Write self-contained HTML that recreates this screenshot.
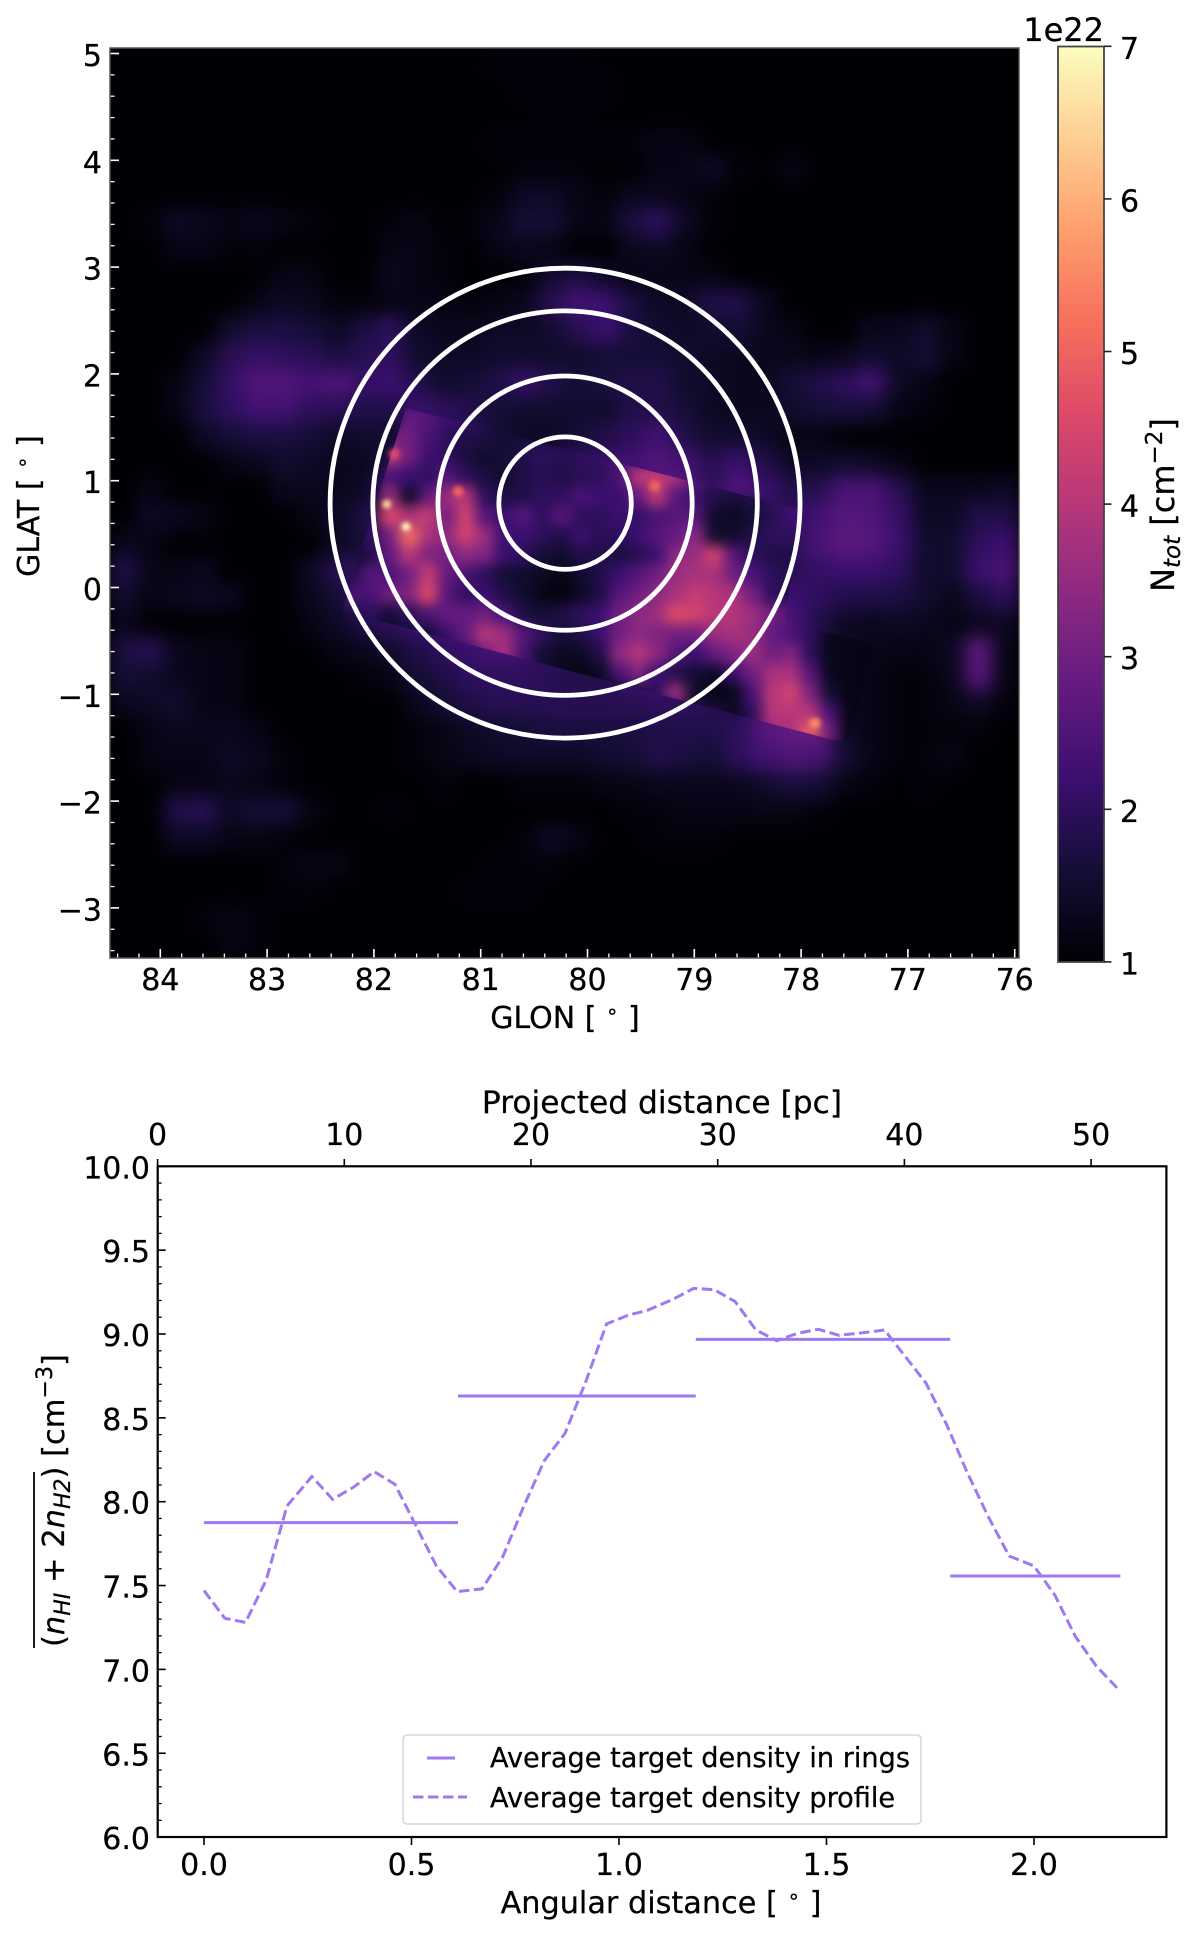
<!DOCTYPE html>
<html lang="en">
<head>
<meta charset="utf-8">
<title>Column density map and target density profile</title>
<style>
html,body{margin:0;padding:0;background:#fff;}
svg{display:block;}
text{font-family:"DejaVu Sans","Liberation Sans",sans-serif;font-size:30px;fill:#000;stroke:#000;stroke-width:0.25;}
.it{font-style:italic;}
</style>
</head>
<body>
<svg id="figure" xmlns="http://www.w3.org/2000/svg" width="1200" height="1938" viewBox="0 0 1200 1938">
  <defs>
    <clipPath id="map-clip"><rect x="110" y="48" width="909" height="910"/></clipPath>
    <clipPath id="strip-clip"><polygon id="strip-polygon" points="0,0"/></clipPath>
    <filter id="soft" filterUnits="userSpaceOnUse" x="40" y="-20" width="1050" height="1050" color-interpolation-filters="sRGB"><feGaussianBlur stdDeviation="9"/></filter>
    <filter id="medium" filterUnits="userSpaceOnUse" x="40" y="-20" width="1050" height="1050" color-interpolation-filters="sRGB"><feGaussianBlur stdDeviation="6.5"/></filter>
    <filter id="softer" filterUnits="userSpaceOnUse" x="40" y="-20" width="1050" height="1050" color-interpolation-filters="sRGB"><feGaussianBlur stdDeviation="2.5"/></filter>
    <linearGradient id="magma-gradient" x1="0" y1="1" x2="0" y2="0"></linearGradient>
  </defs>

  <g id="map-panel">
    <rect x="110" y="48" width="909" height="910" fill="#000004"/>
    <g clip-path="url(#map-clip)">
      <g id="heat-cells" filter="url(#soft)"></g>
      <g clip-path="url(#strip-clip)">
        <g id="detail-cells" filter="url(#medium)"></g>
      </g>
      <g id="hot-spots" filter="url(#softer)"></g>
      <g id="rings"></g>
    </g>
    <g id="map-ticks"></g>
    <rect x="110" y="48" width="909" height="910" fill="none" stroke="#555" stroke-width="1.5"/>
    <text x="565" y="1028" text-anchor="middle">GLON [ <tspan font-size="20" dy="-10">∘</tspan><tspan dy="10"> ]</tspan></text>
    <text transform="translate(39,506) rotate(-90)" text-anchor="middle">GLAT [ <tspan font-size="20" dy="-10">∘</tspan><tspan dy="10"> ]</tspan></text>
  </g>

  <g id="colorbar">
    <rect x="1058" y="46.5" width="46" height="915.5" fill="url(#magma-gradient)" stroke="#444" stroke-width="1.8"/>
    <g id="cbar-ticks"></g>
    <text x="1104" y="41" text-anchor="end" style="font-size:32px">1e22</text>
    <text transform="translate(1174,505) rotate(-90)" text-anchor="middle" style="font-size:32px">N<tspan class="it" font-size="23" dy="6">tot</tspan><tspan dy="-6"> [cm</tspan><tspan font-size="23" dy="-12">−2</tspan><tspan dy="12">]</tspan></text>
  </g>

  <g id="profile-panel">
    <g id="profile-marks"></g>
    <rect x="157.7" y="1166.3" width="1008.7" height="670.7" fill="none" stroke="#000" stroke-width="2.2"/>
    <g id="profile-ticks"></g>
    <text x="662" y="1113" text-anchor="middle" style="font-size:31.3px">Projected distance [pc]</text>
    <text x="661" y="1913" text-anchor="middle" style="font-size:30.3px">Angular distance [ <tspan font-size="20" dy="-10">∘</tspan><tspan dy="10"> ]</tspan></text>
    <g>
      <line x1="34" y1="1472" x2="34" y2="1648" stroke="#000" stroke-width="1.8"/>
      <text transform="translate(64,1647) rotate(-90)" style="font-size:30.5px">(<tspan class="it">n</tspan><tspan class="it" font-size="22" dy="6">HI</tspan><tspan dy="-6"> + 2</tspan><tspan class="it">n</tspan><tspan class="it" font-size="22" dy="6">H2</tspan><tspan dy="-6">) [cm</tspan><tspan font-size="22" dy="-12">−3</tspan><tspan dy="12">]</tspan></text>
    </g>
    <g>
      <rect x="403" y="1735" width="518" height="89" rx="4" fill="#fff" fill-opacity="0.8" stroke="#d5d5d5" stroke-width="1.5"/>
      <line x1="427" y1="1758" x2="455" y2="1758" stroke="#9e79f2" stroke-width="3"/>
      <text x="490" y="1767" style="font-size:27.15px">Average target density in rings</text>
      <line x1="413" y1="1797" x2="467" y2="1797" stroke="#9e79f2" stroke-width="3" stroke-dasharray="10.5 4.5"/>
      <text x="490" y="1807" style="font-size:27.15px">Average target density profile</text>
    </g>
  </g>
</svg>

<script>
// ---------- map data (column density in units of 1e21 cm^-2, read by eye; rows top to bottom, columns left to right)
var densityGrid = [
[10,10,10,10,10,10,10,10,10,10,10,10,10,10,11,11,11,11,10,10,10,10,10,10,10,10,10,10,10,10,10,10,10,10],
[10,10,10,10,10,10,10,10,10,10,10,10,10,10,10,11,11,11,11,10,10,10,10,10,10,10,10,10,10,10,10,10,10,10],
[10,10,10,10,10,10,10,10,10,10,10,10,10,10,10,10,11,11,10,10,10,10,10,10,10,10,10,10,10,10,10,10,10,10],
[10,10,10,10,10,10,10,10,10,10,10,10,10,10,11,11,11,11,11,11,12,12,10,10,10,10,10,10,10,10,10,10,10,10],
[10,10,10,10,10,10,10,10,10,10,10,10,10,10,10,11,11,11,10,10,12,12,14,11,10,12,10,10,10,10,10,10,10,10],
[10,10,10,10,10,10,10,10,10,10,10,10,10,10,11,14,14,12,11,13,13,12,11,10,10,10,10,10,10,10,10,10,10,10],
[10,11,14,13,12,13,12,11,10,10,11,12,10,11,13,16,16,12,12,17,20,14,11,10,10,10,10,10,10,10,10,10,10,10],
[10,10,12,12,11,11,10,10,10,10,12,12,11,10,12,13,12,10,10,13,14,12,10,10,10,10,10,10,10,10,10,10,10,10],
[10,10,10,10,10,10,12,12,10,10,13,12,11,10,10,11,15,17,14,12,12,12,12,10,10,10,10,10,10,10,10,10,10,10],
[10,10,10,10,10,12,14,13,11,11,12,12,12,11,12,13,19,23,22,17,14,14,18,18,13,10,10,10,10,10,10,10,10,10],
[10,10,10,10,15,17,17,16,14,17,20,14,13,13,14,14,15,19,22,17,15,14,15,16,13,12,10,10,13,13,15,12,10,10],
[10,10,10,14,19,21,20,19,17,19,20,15,14,14,15,15,15,15,16,16,16,15,14,13,13,13,12,13,15,14,16,12,10,10],
[10,10,12,16,21,25,25,23,25,21,22,18,15,16,18,21,18,16,17,18,18,15,14,13,13,16,18,20,23,14,12,10,10,10],
[10,10,12,17,20,23,23,20,19,18,18,22,20,18,16,15,15,15,15,18,18,16,14,13,13,15,16,17,16,12,11,10,10,10],
[10,10,10,14,16,17,17,16,14,15,15,20,20,19,16,14,14,16,18,20,23,18,15,15,14,12,12,10,10,10,10,10,10,10],
[10,10,10,10,12,13,15,14,13,13,18,24,22,23,22,17,19,20,21,23,25,23,19,22,18,14,14,15,14,12,10,10,10,10],
[10,12,10,10,10,10,13,13,13,14,24,20,24,26,22,19,20,22,22,23,26,26,20,25,22,18,19,24,24,19,13,13,13,14],
[10,14,13,12,10,10,10,12,14,17,26,28,26,26,24,20,21,22,22,22,24,24,22,16,18,20,23,26,25,21,14,14,18,18],
[13,12,10,10,10,10,10,10,14,16,24,28,26,26,26,20,20,17,18,17,22,26,26,17,20,20,24,27,26,22,15,15,20,22],
[18,12,12,13,10,10,10,14,19,20,24,26,28,24,22,17,14,13,16,18,22,28,30,26,24,19,21,22,22,20,15,15,22,24],
[15,12,13,14,13,10,10,13,16,22,24,26,28,24,24,20,12,12,17,23,25,28,30,30,26,22,20,18,18,17,15,13,17,20],
[13,10,10,10,10,10,10,12,14,18,20,22,24,26,24,19,16,16,22,26,28,30,30,30,30,24,18,14,13,14,13,12,13,14],
[17,19,13,12,12,10,10,10,12,13,15,18,20,22,24,22,20,21,24,26,26,26,26,28,28,24,18,13,13,12,12,14,27,12],
[16,15,13,12,12,10,10,10,10,11,12,16,18,20,20,20,19,18,18,22,24,22,22,24,26,26,16,13,12,11,11,13,26,12],
[13,14,15,12,12,10,10,10,10,10,10,13,16,18,19,19,19,19,19,19,20,20,19,18,24,28,22,13,12,11,11,12,14,11],
[10,12,13,13,13,12,10,10,10,10,10,11,12,14,15,16,17,17,17,17,18,18,18,20,26,28,28,14,12,11,11,11,11,10],
[10,12,12,12,14,13,11,10,10,10,10,11,12,13,14,14,14,14,15,16,18,17,16,20,23,25,24,16,12,11,11,12,10,10],
[10,10,12,12,13,12,11,10,10,10,10,10,11,10,10,11,11,11,12,12,13,13,13,13,15,17,16,12,11,10,11,10,10,10],
[10,10,18,19,14,16,16,12,10,10,11,10,10,10,10,10,10,10,10,11,11,12,12,12,12,12,11,10,10,10,10,10,10,10],
[10,10,14,14,12,12,11,10,10,10,10,10,10,10,10,11,14,12,10,10,11,11,11,10,10,10,10,10,10,10,10,10,10,10],
[10,10,10,10,10,10,11,12,12,10,10,10,10,10,11,11,11,10,10,10,10,10,10,10,10,10,10,10,10,10,10,10,10,10],
[10,10,10,10,10,10,11,11,10,10,10,10,10,11,11,11,10,10,10,10,10,10,10,10,10,10,10,10,10,10,10,10,10,10],
[10,10,10,11,12,11,10,10,10,10,10,10,10,10,10,10,10,10,10,10,10,10,10,10,10,10,10,10,10,10,10,10,10,10],
[10,10,10,10,12,11,10,10,10,10,10,10,10,10,10,10,10,10,10,10,10,10,10,10,10,10,10,10,10,10,10,10,10,10]
];
// high-resolution strip (same units, 0 = no data)
var detailLon = [82.21,82.03,81.85,81.67,81.49,81.31,81.14,80.96,80.78,80.60,80.42,80.24,80.06,79.88,79.70,79.52,79.35,79.17,78.99,78.81,78.63,78.45,78.27,78.09,77.91,77.73,77.55,77.37];
var detailLat = [1.59,1.41,1.22,1.04,0.85,0.67,0.48,0.30,0.12,-0.07,-0.25,-0.44,-0.62,-0.81,-0.99,-1.18,-1.36];
var detailGrid = [
[0,0,0,28,26,22,22,20,0,0,0,0,0,0,0,0,0,0,0,0,0,0,0,0,0,0,0,0],
[0,0,30,30,24,20,18,17,16,16,18,0,0,0,0,0,0,0,0,0,0,0,0,0,0,0,0,0],
[0,0,40,30,22,20,17,15,16,18,20,19,20,21,24,24,24,0,0,0,0,0,0,0,0,0,0,0],
[0,0,24,22,20,26,20,17,15,18,19,18,19,20,24,40,42,38,26,22,20,0,0,0,0,0,0,0],
[0,14,36,14,28,36,40,20,17,18,20,20,24,22,22,28,42,26,22,18,17,18,20,22,22,0,0,0],
[0,18,46,38,42,30,44,26,22,26,20,26,20,20,22,21,24,26,26,15,14,16,19,22,22,0,0,0],
[20,20,30,52,38,34,44,36,22,22,20,18,22,19,20,22,26,28,34,15,15,18,20,20,20,0,0,0],
[14,18,28,40,32,30,34,32,22,20,16,15,18,18,17,19,22,34,36,44,26,20,18,18,18,0,0,0],
[18,26,24,30,42,28,24,20,16,15,14,12,15,18,22,26,30,36,38,38,30,24,20,18,18,0,0,0],
[24,24,30,32,46,26,20,22,18,15,12,11,14,18,26,30,34,38,42,40,38,30,20,18,18,0,0,0],
[18,20,16,20,24,28,28,30,24,18,16,18,20,22,30,34,36,46,44,40,40,36,30,26,22,0,0,0],
[16,16,14,16,16,22,28,40,36,26,20,16,18,22,30,34,32,30,30,36,38,36,28,24,20,13,12,12],
[0,0,14,15,15,16,20,30,38,24,16,14,14,18,34,40,34,26,22,28,32,36,30,32,20,13,12,12],
[0,0,0,0,0,16,18,20,20,20,16,13,12,14,24,32,22,18,16,14,22,30,38,38,26,13,12,12],
[0,0,0,0,0,0,0,0,0,16,15,14,13,12,14,17,20,36,15,12,13,24,40,44,32,16,12,12],
[0,0,0,0,0,0,0,0,0,0,0,0,0,0,14,16,17,18,18,18,14,20,40,40,40,24,12,12],
[0,0,0,0,0,0,0,0,0,0,0,0,0,0,0,0,0,0,16,16,16,22,36,38,50,30,12,12]
];
var stripLon = [81.70,78.01,78.15,77.28,77.58,82.30];
var stripLat = [1.68,0.73,-0.32,-0.54,-1.46,-0.22];
var clumpLon = [81.70,81.88,81.21,79.37,77.87,81.81];
var clumpLat = [0.57,0.78,0.90,0.95,-1.27,1.25];
var clumpDensity = [7.0,6.5,5.0,5.0,5.5,4.5];
var ringEdges = [0.62,1.19,1.80,2.20];
var ringCenterLon = [80.21];
var ringCenterLat = [0.79];
var lonTicks = [84,83,82,81,80,79,78,77,76];
var latTicks = [5,4,3,2,1,0,-1,-2,-3];
var colorbarTicks = [1,2,3,4,5,6,7];

// ---------- profile chart data
var angularDistance = [0.00,0.05,0.10,0.15,0.20,0.26,0.31,0.36,0.41,0.46,0.51,0.56,0.61,0.67,0.72,0.77,0.82,0.87,0.92,0.97,1.02,1.07,1.13,1.18,1.23,1.28,1.33,1.38,1.43,1.48,1.53,1.59,1.64,1.69,1.74,1.79,1.84,1.89,1.94,2.00,2.05,2.10,2.15,2.20];
var profileDensity = [7.47,7.305,7.28,7.533,7.975,8.15,8.014,8.086,8.179,8.104,7.86,7.617,7.464,7.48,7.672,7.97,8.245,8.408,8.716,9.06,9.11,9.143,9.207,9.272,9.264,9.193,9.024,8.96,9.004,9.028,8.992,9.008,9.024,8.865,8.706,8.457,8.169,7.91,7.676,7.617,7.444,7.195,7.02,6.89];
var ringStart = [0.00,0.612,1.185,1.798];
var ringEnd = [0.612,1.185,1.798,2.208];
var ringDensity = [7.875,8.63,8.968,7.557];
var angleTicks = ["0.0","0.5","1.0","1.5","2.0"];
var parsecTicks = [0,10,20,30,40,50];
var densityTicks = ["6.0","6.5","7.0","7.5","8.0","8.5","9.0","9.5","10.0"];

// ---------- colormap
var magmaStops = ["#000004","#140e36","#3b0f70","#641a80","#8c2981","#b73779","#de4968","#f7705c","#fe9f6d","#fecf92","#fcfdbf"];
function hexRgb(h){return [parseInt(h.substr(1,2),16),parseInt(h.substr(3,2),16),parseInt(h.substr(5,2),16)];}
function magma(v){
  var t=Math.max(0,Math.min(1,(v-1)/6))*(magmaStops.length-1);
  var i=Math.min(Math.floor(t),magmaStops.length-2),f=t-i;
  var a=hexRgb(magmaStops[i]),b=hexRgb(magmaStops[i+1]);
  return "rgb("+Math.round(a[0]+(b[0]-a[0])*f)+","+Math.round(a[1]+(b[1]-a[1])*f)+","+Math.round(a[2]+(b[2]-a[2])*f)+")";
}

// ---------- axis functions
function lonX(v){return 160.3+106.8*(84-v);}
function latY(v){return 587.5-106.8*v;}
function cbarY(v){return 46.3+152.6*(7-v);}
function angX(v){return 204+415*v;}
function pcX(v){return 157.6+18.67*v;}
function denY(v){return 1166.3+167.7*(10-v);}

var NS="http://www.w3.org/2000/svg";
function make(tag,parent,attrs){
  var el=document.createElementNS(NS,tag);
  for(var k in attrs){el.setAttribute(k,attrs[k]);}
  parent.appendChild(el);
  return el;
}
function byId(id){return document.getElementById(id);}

// heatmap cells
var heat=byId("heat-cells");
var rowCount=densityGrid.length;
var colCount=densityGrid[0].length;
var cellW=909/colCount, cellH=910/rowCount;
densityGrid.forEach(function(row,r){
  row.forEach(function(val,c){
    var el=make("rect",heat,{x:110+c*cellW,y:48+r*cellH,width:cellW+0.6,height:cellH+0.6,fill:magma(val/10)});
    
    
  });
});

// high-resolution strip
byId("strip-polygon").setAttribute("points",stripLon.map(function(lon,i){return lonX(lon)+","+latY(stripLat[i]);}).join(" "));
var detail=byId("detail-cells");
detailGrid.forEach(function(row,r){
  row.forEach(function(val,c){
    if(!val){return;}
    var cx=lonX(detailLon[c]), cy=latY(detailLat[r]);
    var el=make("rect",detail,{x:cx-10,y:cy-10.2,width:20,height:20.4,fill:magma(val/10)});
    
    
  });
});

// bright clumps
var hot=byId("hot-spots");
clumpDensity.forEach(function(val,i){
  var el=make("circle",hot,{cx:lonX(clumpLon[i]),cy:latY(clumpLat[i]),r:val>5.5?4.5:5.5,fill:magma(val)});
  
  
});

// rings
var ringsG=byId("rings");
ringEdges.forEach(function(deg){
  var el=make("circle",ringsG,{cx:lonX(ringCenterLon[0]),cy:latY(ringCenterLat[0]),r:deg*106.8,fill:"none",stroke:"#fff","stroke-width":4.8});
  
  
});

// map ticks
var mapTicks=byId("map-ticks");
lonTicks.forEach(function(v){
  var x=lonX(v);
  var el=make("line",mapTicks,{x1:x,x2:x,y1:958,y2:949,stroke:"#fff","stroke-width":1.6});
  
  
  var t=make("text",mapTicks,{x:x,y:990,"text-anchor":"middle"});
  t.textContent=String(v);
  
  
});
for(var lonStep=0;lonStep<=42;lonStep++){
  var lonMinor=84.4-lonStep*0.2;
  if(lonStep%5===2){continue;}
  var mx=lonX(lonMinor);
  if(mx>1018){continue;}
  var mt=make("line",mapTicks,{x1:mx,x2:mx,y1:958,y2:953.5,stroke:"#fff","stroke-width":1.3});
  
  
}
latTicks.forEach(function(v){
  var y=latY(v);
  var el=make("line",mapTicks,{x1:110,x2:119,y1:y,y2:y,stroke:"#fff","stroke-width":1.6});
  
  
  var t=make("text",mapTicks,{x:102,y:y+12.5,"text-anchor":"end"});
  t.textContent=(v<0?"\u2212":"")+Math.abs(v);
  
  
});
for(var latStep=0;latStep<=43;latStep++){
  if(latStep%5===0){continue;}
  var latMinor=5-latStep*0.2;
  var my=latY(latMinor);
  var lt=make("line",mapTicks,{x1:110,x2:114.5,y1:my,y2:my,stroke:"#fff","stroke-width":1.3});
  
  
}

// colorbar
var grad=byId("magma-gradient");
magmaStops.forEach(function(c,i){
  make("stop",grad,{offset:i/(magmaStops.length-1),"stop-color":c});
});
var cbarG=byId("cbar-ticks");
colorbarTicks.forEach(function(v){
  var y=cbarY(v);
  var el=make("line",cbarG,{x1:1104,x2:1111.5,y1:y,y2:y,stroke:"#222","stroke-width":1.6});
  
  
  var t=make("text",cbarG,{x:1120,y:y+12.5});
  t.textContent=String(v);
  
  
});

// profile series
var marks=byId("profile-marks");
ringDensity.forEach(function(v,i){
  var el=make("line",marks,{x1:angX(ringStart[i]),x2:angX(ringEnd[i]),y1:denY(v),y2:denY(v),stroke:"#9e79f2","stroke-width":3});
  
  
});
var pathD=profileDensity.map(function(v,i){return (i?"L":"M")+angX(angularDistance[i]).toFixed(2)+" "+denY(v).toFixed(2);}).join(" ");
var prof=make("path",marks,{d:pathD,fill:"none",stroke:"#9e79f2","stroke-width":3,"stroke-dasharray":"10.5 4.5"});



// profile ticks
var profTicks=byId("profile-ticks");
angleTicks.forEach(function(label){
  var x=angX(parseFloat(label));
  var el=make("line",profTicks,{x1:x,x2:x,y1:1837,y2:1845,stroke:"#000","stroke-width":1.6});
  
  
  var t=make("text",profTicks,{x:x,y:1875,"text-anchor":"middle"});
  t.textContent=label;
  
  
});
parsecTicks.forEach(function(v){
  var x=pcX(v);
  var el=make("line",profTicks,{x1:x,x2:x,y1:1166.3,y2:1159,stroke:"#000","stroke-width":1.6});
  
  
  var t=make("text",profTicks,{x:x,y:1145,"text-anchor":"middle"});
  t.textContent=String(v);
  
  
});
densityTicks.forEach(function(label){
  var y=denY(parseFloat(label));
  var el=make("line",profTicks,{x1:157.7,x2:165.7,y1:y,y2:y,stroke:"#000","stroke-width":1.6});
  
  
  var t=make("text",profTicks,{x:150,y:y+12,"text-anchor":"end"});
  t.textContent=label;
  
  
});
for(var denStep=1;denStep<40;denStep++){
  if(denStep%5===0){continue;}
  var dy=denY(6+denStep*0.1);
  var dt=make("line",profTicks,{x1:157.7,x2:161.7,y1:dy,y2:dy,stroke:"#000","stroke-width":1.3});
  
  
}
</script>
</body>
</html>
